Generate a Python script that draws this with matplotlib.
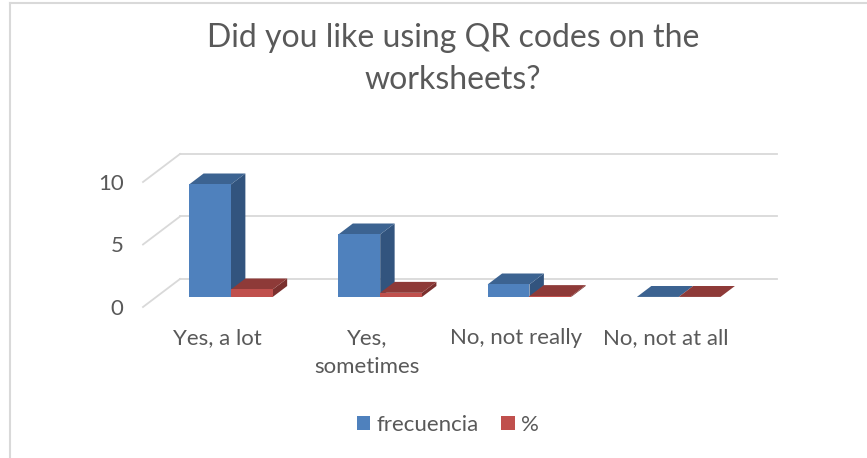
import numpy as np
import matplotlib
matplotlib.use("Agg")
import matplotlib.pyplot as plt
from matplotlib.patches import Polygon, Patch
from matplotlib.lines import Line2D

# datos del grafico
categorias = ["Yes, a lot", "Yes,\nsometimes", "No, not really", "No, not at all"]
frecuencia = [9, 5, 1, 0]
porcentaje = [0.6, 0.33, 0.07, 0]
titulo = "Did you like using QR codes on the\nworksheets?"

plt.rcParams['font.family'] = ['Lato', 'DejaVu Sans']
gris = "#595959"

fig = plt.figure(figsize=(8.67, 4.58), dpi=100)
ax = fig.add_axes([143/867, 151/458, 597/867, 125/458])
ax.set_xlim(-0.5, 3.5)
ax.set_ylim(0, 10)

# vector de profundidad (perspectiva oblicua) en unidades de datos
DX = 37 / 149.25
DY = 28 / 12.5
f0, f1 = 0.36, 0.75
w = 0.28

# rejilla: pared del fondo y pared lateral
for v in [0, 5, 10]:
    ax.plot([-0.5 + DX, 3.5 + DX], [v + DY, v + DY], color="#D9D9D9", lw=1.3, clip_on=False, zorder=1)
    ax.plot([-0.5, -0.5 + DX], [v, v + DY], color="#D9D9D9", lw=1.3, clip_on=False, zorder=1)

def barra3d(x0, v, c_front, c_top, c_side):
    dd = f1 - f0
    y0 = f0 * DY
    x0 = x0 + f0 * DX
    ax.add_patch(Polygon([(x0 + w, y0), (x0 + w, y0 + v), (x0 + w + dd*DX, y0 + v + dd*DY), (x0 + w + dd*DX, y0 + dd*DY)],
                         closed=True, facecolor=c_side, edgecolor="none", clip_on=False, zorder=2))
    ax.add_patch(Polygon([(x0, y0 + v), (x0 + w, y0 + v), (x0 + w + dd*DX, y0 + v + dd*DY), (x0 + dd*DX, y0 + v + dd*DY)],
                         closed=True, facecolor=c_top, edgecolor="none", clip_on=False, zorder=2))
    if v > 0:
        ax.bar(x0, v, width=w, bottom=y0, align="edge", color=c_front, clip_on=False, zorder=2)

for i in range(len(categorias)):
    barra3d(i - w, frecuencia[i], "#4F81BD", "#3C6391", "#32547E")
    barra3d(i, porcentaje[i], "#C0504D", "#8E3A38", "#7A302E")

ax.set_xticks(range(len(categorias)))
ax.set_xticklabels(categorias, fontsize=16, color=gris, linespacing=1.6)
ax.set_yticks([0, 5, 10])
ax.tick_params(axis="both", length=0, colors=gris)
ax.tick_params(axis="x", pad=15, labelsize=16)
ax.tick_params(axis="y", pad=14, labelsize=16)
for s in ax.spines.values():
    s.set_visible(False)
ax.patch.set_visible(False)

fig.text(453/867, 1 - 59/458, titulo, ha="center", va="center", fontsize=23, color=gris, linespacing=1.47)

handles = [Patch(facecolor="#4F81BD", label="frecuencia"), Patch(facecolor="#C0504D", label="%")]
fig.legend(handles=handles, loc="center", bbox_to_anchor=(448/867, 1 - 425/458), ncol=2, frameon=False,
           fontsize=16, handlelength=0.6, handleheight=0.6, handletextpad=0.3, columnspacing=1.0, labelcolor=gris)

# borde del grafico
fig.add_artist(Line2D([9.5/867, 9.5/867], [0, 1 - 3/458], color="#D9D9D9", lw=1.5))
fig.add_artist(Line2D([9.5/867, 1], [1 - 3/458, 1 - 3/458], color="#D9D9D9", lw=1.5))

fig.savefig("out.png", dpi=100)
